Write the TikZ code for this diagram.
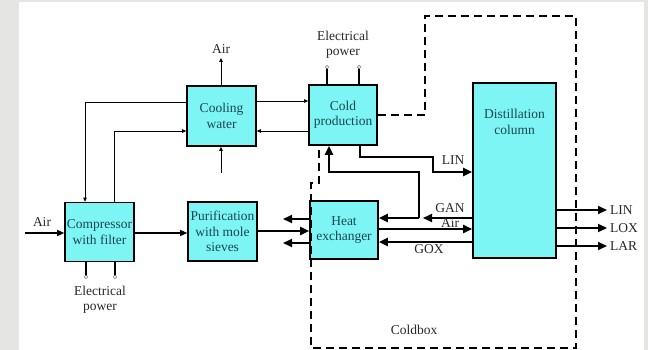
\documentclass[tikz,border=0pt]{standalone}
\usepackage{fontspec}
\setmainfont{Liberation Serif}
\usetikzlibrary{arrows.meta}
\definecolor{boxcyan}{RGB}{125,245,245}
\definecolor{boxtext}{RGB}{25,70,80}
\definecolor{labeltext}{RGB}{40,40,40}
\definecolor{pagegray}{RGB}{229,229,227}
\tikzset{
	unit/.style={draw, line width=1.6pt, fill=boxcyan, text=boxtext, align=center, inner sep=0pt, minimum width=69pt, minimum height=59pt, font=\fontsize{13.5}{15.5}\selectfont},
	lbl/.style={text=labeltext, inner sep=0pt, font=\fontsize{13.5}{15.5}\selectfont},
	pipe/.style={line width=0.8pt, -{Triangle[length=4pt,width=3.5pt]}},
	feed/.style={line width=1.2pt, -{Triangle[length=7pt,width=6pt]}},
	flow/.style={line width=2pt, -{Triangle[length=9pt,width=8pt]}},
	wire/.style={line width=1.5pt},
	terminal/.style={circle, draw=gray, line width=0.7pt, fill=white, inner sep=0pt, minimum size=3.5pt},
	coldbox/.style={line width=2pt, dash pattern=on 8pt off 5pt},
}
\begin{document}
\begin{tikzpicture}[x=1pt, y=-1pt]
	\fill[pagegray] (0,0) rectangle (648,350);
	\fill[white] (19,2) rectangle (644,350);
	\node[unit] (comp) at (99.5,232) {Compressor\\with filter};
	\node[unit] (puri) at (222.5,231.5) {Purification\\with mole\\sieves};
	\node[unit, minimum height=60pt] (cool) at (221.5,116) {Cooling\\water};
	\node[unit, minimum width=68pt, minimum height=60pt] (cold) at (343,115) {Cold\\production};
	\node[unit, minimum width=68pt, minimum height=58pt] (hx) at (344,230) {Heat\\exchanger};
	\node[unit, minimum width=83pt, minimum height=175pt] (dist) at (514.5,170.5) {};
	\node[lbl, text=boxtext, align=center] (distname) at (514.5,122) {Distillation\\column};

	\coordinate (airin) at (25,233);
	\coordinate (airtop) at (221,58);
	\coordinate (cwin) at (221,173);
	\coordinate (cwret) at (85,102);
	\coordinate (cwsup) at (114,131);
	\coordinate (hxvent) at (283,219);
	\coordinate (hxgox) at (283,243);
	\coordinate (ganjoin) at (419,218);
	\coordinate (ganbend) at (329,172);
	\coordinate (linbend) at (360,157);
	\coordinate (lindrop) at (433,172);
	\coordinate (linout) at (607,210);
	\coordinate (loxout) at (607,228);
	\coordinate (larout) at (607,246);

	\draw[feed] (airin) -- (comp.west |- airin);
	\node[lbl] at (42,222) {Air};
	\draw[feed] (comp.east |- airin) -- (puri.west |- airin);
	\draw[flow] (puri.east |- 0,231) -- (hx.west |- 0,231);
	\draw[flow] (hx.west |- hxvent) -- (hxvent);
	\draw[flow] (hx.west |- hxgox) -- (hxgox);

	\draw[flow] (dist.west |- ganjoin) -- ([xshift=4pt]ganjoin);
	\draw[flow] (ganjoin) -- (hx.east |- ganjoin);
	\draw[flow] (ganjoin) |- (ganbend) -- (ganbend |- cold.south);
	\draw[flow] (hx.east |- 0,229) -- (dist.west |- 0,229);
	\draw[flow] (dist.west |- 0,242) -- (hx.east |- 0,242);
	\draw[flow] (cold.south -| linbend) -- (linbend) -| (lindrop) -- (dist.west |- lindrop);
	\node[lbl] at (453,160) {LIN};
	\node[lbl] at (450,208) {GAN};
	\node[lbl] at (450,223) {Air};
	\node[lbl] at (429,249) {GOX};

	\draw[flow] (dist.east |- linout) -- (linout) node[lbl, right=2pt] {LIN};
	\draw[flow] (dist.east |- loxout) -- (loxout) node[lbl, right=2pt] {LOX};
	\draw[flow] (dist.east |- larout) -- (larout) node[lbl, right=2pt] {LAR};

	\draw[pipe] (cool.west |- cwret) -- (cwret) -- (comp.north -| cwret);
	\draw[pipe] (comp.north -| cwsup) -- (cwsup) -- (cool.west |- cwsup);
	\draw[pipe] (cool.east |- 0,101) -- (cold.west |- 0,101);
	\draw[pipe] (cold.west |- cwsup) -- (cool.east |- cwsup);
	\draw[pipe] (cool.north -| airtop) -- (airtop) node[lbl, above=4pt] {Air};
	\draw[pipe] (cwin) -- (cool.south -| cwin);

	\draw[wire] (327,67) -- (cold.north -| 327,0);
	\draw[wire] (359,67) -- (cold.north -| 359,0);
	\draw[wire] (86,277) -- (comp.south -| 86,0);
	\draw[wire] (115,277) -- (comp.south -| 115,0);
	\node[terminal] (epcold1) at (327,67) {};
	\node[terminal] (epcold2) at (359,67) {};
	\node[terminal] (epcomp1) at (86,277) {};
	\node[terminal] (epcomp2) at (115,277) {};
	\node[lbl, align=center] at (343,45) {Electrical\\power};
	\node[lbl, align=center] at (100,300) {Electrical\\power};

	\draw[coldbox] (cold.east |- 0,115) -- (425,115) -- (425,16) -- (576,16) -- (576,348) -- (311,348) -- (311,183) -- (319,183) -- (cold.south -| 319,0);
	\node[lbl] at (414,330) {Coldbox};
\end{tikzpicture}
\end{document}
